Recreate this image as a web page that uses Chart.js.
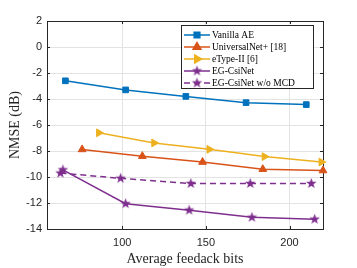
<!DOCTYPE html>
<html>
<head>
<meta charset="utf-8">
<script src="https://cdn.jsdelivr.net/npm/chart.js@4.4.1/dist/chart.umd.min.js"></script>
<style>
  html, body { margin: 0; padding: 0; background: #fff; }
  #wrap { width: 357px; height: 268px; }
</style>
</head>
<body>
<div id="wrap"><canvas id="myChart" width="357" height="268"></canvas></div>
<script>
// Datos
const xTicks = [100, 150, 200];
const yTicks = [2, 0, -2, -4, -6, -8, -10, -12, -14];

const vanillaX = [66, 102, 138, 174, 210];
const vanillaY = [-2.6, -3.3, -3.8, -4.28, -4.43];

const universalX = [76, 112, 148, 184, 220];
const universalY = [-7.88, -8.4, -8.85, -9.4, -9.5];

const etypeX = [86, 119, 152, 185, 219];
const etypeY = [-6.6, -7.38, -7.87, -8.43, -8.85];

const egX = [64.5, 102, 140, 177.5, 215];
const egY = [-9.45, -12.05, -12.55, -13.1, -13.25];

const egSinMcdX = [63, 99, 141, 176.5, 213];
const egSinMcdY = [-9.7, -10.1, -10.5, -10.5, -10.5];

const nombres = ['Vanilla AE', 'UniversalNet+ [18]', 'eType-II [6]', 'EG-CsiNet', 'EG-CsiNet w/o MCD'];

const azul = '#0072BD';
const naranja = '#D95319';
const amarillo = '#EDB120';
const morado = '#7E2F8E';

const ctx = document.getElementById('myChart');

/* Estrella rellena para los marcadores */
function crear_estrella(color, r) {
  let c = document.createElement('canvas');
  let s = Math.ceil(r * 2 + 2);
  c.width = s;
  c.height = s;
  let g = c.getContext('2d');
  g.fillStyle = color;
  g.beginPath();
  for (let i = 0; i < 10; i++) {
    let rr = (i % 2 == 0) ? r : r * 0.42;
    let a = -Math.PI / 2 + i * Math.PI / 5;
    let px = s / 2 + rr * Math.cos(a);
    let py = s / 2 + rr * Math.sin(a);
    if (i == 0) g.moveTo(px, py); else g.lineTo(px, py);
  }
  g.closePath();
  g.fill();
  return c;
}

const estrella = crear_estrella(morado, 5.5);

function puntos(xs, ys) {
  return xs.map((x, i) => ({ x: x, y: ys[i] }));
}

/* Caja de ejes con marcas interiores */
const cajaPlugin = {
  id: 'caja',
  beforeDatasetsDraw(chart) {
    const a = chart.chartArea;
    const g = chart.ctx;
    const sx = chart.scales.x;
    const sy = chart.scales.y;
    g.save();
    g.strokeStyle = '#262626';
    g.lineWidth = 1;
    g.strokeRect(Math.round(a.left) + 0.5, Math.round(a.top) + 0.5,
      Math.round(a.right - a.left), Math.round(a.bottom - a.top));
    g.beginPath();
    xTicks.forEach(v => {
      let px = Math.round(sx.getPixelForValue(v)) + 0.5;
      g.moveTo(px, a.bottom); g.lineTo(px, a.bottom - 3);
      g.moveTo(px, a.top); g.lineTo(px, a.top + 3);
    });
    yTicks.forEach(v => {
      let py = Math.round(sy.getPixelForValue(v)) + 0.5;
      g.moveTo(a.left, py); g.lineTo(a.left + 3, py);
      g.moveTo(a.right, py); g.lineTo(a.right - 3, py);
    });
    g.stroke();
    g.restore();
  }
};

/* Leyenda estilo MATLAB */
const leyendaPlugin = {
  id: 'leyenda',
  afterDraw(chart) {
    const g = chart.ctx;
    const x0 = 181, y0 = 25, w = 132, h = 63;
    g.save();
    g.fillStyle = '#fff';
    g.fillRect(x0, y0, w, h);
    g.strokeStyle = '#262626';
    g.lineWidth = 1;
    g.strokeRect(x0 + 0.5, y0 + 0.5, w, h);
    g.font = '9.5px "Liberation Serif", "Times New Roman", serif';
    g.textBaseline = 'middle';
    chart.data.datasets.forEach((ds, i) => {
      let yy = y0 + 10 + i * 12;
      g.strokeStyle = ds.borderColor;
      g.fillStyle = ds.borderColor;
      g.lineWidth = 1.5;
      g.setLineDash(ds.borderDash || []);
      g.beginPath();
      g.moveTo(x0 + 3, yy);
      g.lineTo(x0 + 29, yy);
      g.stroke();
      g.setLineDash([]);
      Chart.helpers.drawPoint(g, {
        pointStyle: ds.pointStyle,
        rotation: ds.pointRotation || 0,
        radius: ds.pointRadius,
        borderWidth: 1
      }, x0 + 16, yy);
      g.fillStyle = '#000';
      g.fillText(ds.label, x0 + 31, yy + 0.5);
    });
    g.restore();
  }
};

function start_chart() {
  const config = {
    type: 'line',
    data: {
      datasets: [
        {
          label: nombres[0], data: puntos(vanillaX, vanillaY),
          borderColor: azul, backgroundColor: azul, borderWidth: 1.5,
          pointStyle: 'rect', pointRadius: 4, pointBorderWidth: 1, clip: false
        },
        {
          label: nombres[1], data: puntos(universalX, universalY),
          borderColor: naranja, backgroundColor: naranja, borderWidth: 1.5,
          pointStyle: 'triangle', pointRadius: 4.5, pointBorderWidth: 1, clip: false
        },
        {
          label: nombres[2], data: puntos(etypeX, etypeY),
          borderColor: amarillo, backgroundColor: amarillo, borderWidth: 1.5,
          pointStyle: 'triangle', pointRotation: 90, pointRadius: 4.5, pointBorderWidth: 1, clip: false
        },
        {
          label: nombres[3], data: puntos(egX, egY),
          borderColor: morado, backgroundColor: morado, borderWidth: 1.5,
          pointStyle: estrella, pointRadius: 6, clip: false
        },
        {
          label: nombres[4], data: puntos(egSinMcdX, egSinMcdY),
          borderColor: morado, backgroundColor: morado, borderWidth: 1.5, borderDash: [6, 4],
          pointStyle: estrella, pointRadius: 6, clip: false
        }
      ]
    },
    options: {
      responsive: false,
      animation: false,
      layout: { padding: { top: 21, right: 34, left: 0, bottom: 0 } },
      plugins: {
        legend: { display: false },
        tooltip: { enabled: false }
      },
      scales: {
        x: {
          type: 'linear', min: 55, max: 220,
          afterBuildTicks: s => { s.ticks = xTicks.map(v => ({ value: v })); },
          afterFit: s => { s.height = 39; },
          grid: { color: '#e3e3e3', drawTicks: false },
          border: { display: false },
          ticks: {
            padding: 7, color: '#262626',
            font: { family: '"Liberation Sans", Arial, sans-serif', size: 11 }
          },
          title: {
            display: true, text: 'Average feedack bits', color: '#262626',
            padding: { top: 1, bottom: 0 },
            font: { family: '"Liberation Serif", "Times New Roman", serif', size: 14 }
          }
        },
        y: {
          type: 'linear', min: -14, max: 2,
          afterBuildTicks: s => { s.ticks = yTicks.map(v => ({ value: v })); },
          afterFit: s => { s.width = 47; },
          grid: { color: '#e3e3e3', drawTicks: false },
          border: { display: false },
          ticks: {
            padding: 5, color: '#262626',
            font: { family: '"Liberation Sans", Arial, sans-serif', size: 11 }
          },
          title: {
            display: true, text: 'NMSE (dB)', color: '#262626',
            padding: { top: 7, bottom: 0 },
            font: { family: '"Liberation Serif", "Times New Roman", serif', size: 14 }
          }
        }
      }
    },
    plugins: [cajaPlugin, leyendaPlugin]
  };
  new Chart(ctx, config);
}

window.addEventListener('load', start_chart);
</script>
</body>
</html>
